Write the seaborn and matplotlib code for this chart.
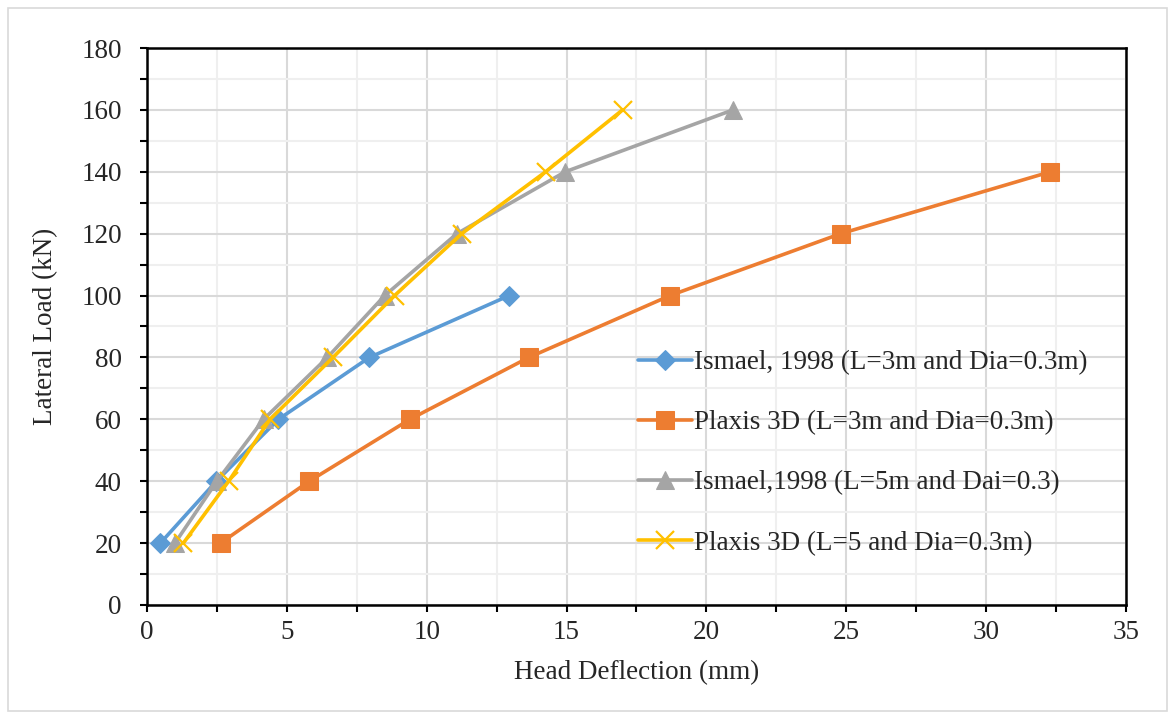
import matplotlib
matplotlib.use('Agg')
import matplotlib.pyplot as plt
import seaborn as sns
from matplotlib.patches import Rectangle
from matplotlib.ticker import MultipleLocator

# data
load_3m = [20, 40, 60, 80, 100]
ismael_3m = [0.48, 2.48, 4.7, 7.95, 12.95]

load_plaxis_3m = [20, 40, 60, 80, 100, 120, 140]
plaxis_3m = [2.63, 5.8, 9.4, 13.65, 18.7, 24.8, 32.3]

load_5m = [20, 40, 60, 80, 100, 120, 140, 160]
ismael_5m = [1.0, 2.5, 4.17, 6.45, 8.5, 11.08, 14.95, 20.95]
plaxis_5m = [1.3, 2.92, 4.4, 6.65, 8.85, 11.25, 14.25, 17.0]

labels = ['Ismael, 1998 (L=3m and Dia=0.3m)',
          'Plaxis 3D (L=3m and Dia=0.3m)',
          'Ismael,1998 (L=5m and Dai=0.3)',
          'Plaxis 3D (L=5 and Dia=0.3m)']
colors = ['#5B9BD5', '#ED7D31', '#A5A5A5', '#FFC000']

sns.set_style('white')
plt.rcParams['font.family'] = ['Liberation Serif', 'DejaVu Serif']
plt.rcParams['font.size'] = 19.5

fig = plt.figure(figsize=(11.75, 7.19), dpi=100)
ax = fig.add_axes([0.1251, 0.1586, 0.8332, 0.7746])

# outer chart border
fig.patches.append(Rectangle((0.007, 0.011), 0.986, 0.978, transform=fig.transFigure,
                             fill=False, edgecolor='#d9d9d9', lw=1.2))

sns.lineplot(x=ismael_3m, y=load_3m, ax=ax, color=colors[0], lw=2.6, marker='D',
             markersize=10, markeredgecolor=colors[0], label=labels[0])
sns.lineplot(x=plaxis_3m, y=load_plaxis_3m, ax=ax, color=colors[1], lw=2.6, marker='s',
             markersize=12.5, markeredgecolor=colors[1], label=labels[1])
sns.lineplot(x=ismael_5m, y=load_5m, ax=ax, color=colors[2], lw=2.6, marker='^',
             markersize=13, markeredgecolor=colors[2], label=labels[2])
sns.lineplot(x=plaxis_5m, y=load_5m, ax=ax, color=colors[3], lw=2.6, marker='x',
             markersize=13, markeredgewidth=1.6, markeredgecolor=colors[3], label=labels[3])

ax.set_xlim(0, 35)
ax.set_ylim(0, 180)
ax.xaxis.set_major_locator(MultipleLocator(5))
ax.xaxis.set_minor_locator(MultipleLocator(2.5))
ax.yaxis.set_major_locator(MultipleLocator(20))
ax.yaxis.set_minor_locator(MultipleLocator(10))

ax.grid(which='major', color='#d9d9d9', lw=1.5)
ax.grid(which='minor', color='#efefef', lw=1.5)
ax.set_axisbelow(True)

for side in ['left', 'bottom', 'top', 'right']:
    ax.spines[side].set_color('black')
    ax.spines[side].set_linewidth(1.8)

ax.tick_params(which='both', direction='out', color='black', width=1.5, length=5,
               left=True, bottom=True, labelsize=19.5)
ax.tick_params(axis='y', which='major', pad=13)
ax.tick_params(axis='x', which='major', pad=6)

ax.set_xlabel('Head Deflection (mm)', fontsize=19.5, labelpad=11)
ax.set_ylabel('Lateral Load (kN)', fontsize=19.5, labelpad=17)

ax.legend(loc='center left', bbox_to_anchor=(0.49, 0.273), frameon=False, fontsize=19.5,
          handlelength=2.0, handletextpad=0.1, labelspacing=1.3, borderaxespad=0)

fig.savefig('out.png', dpi=100)
